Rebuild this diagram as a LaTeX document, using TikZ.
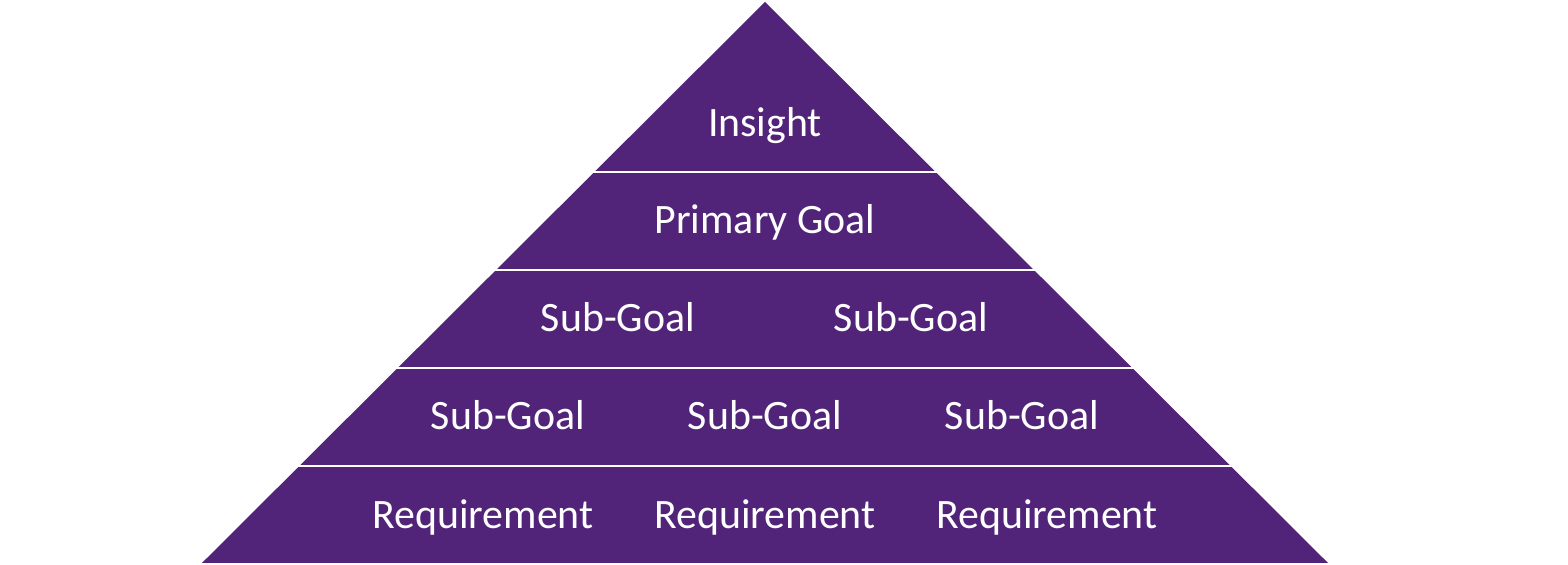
\documentclass[tikz,border=0pt]{standalone}
\usepackage{fontspec}
\setmainfont{Carlito}
\usepackage{tikz}
\usetikzlibrary{positioning,calc}
\definecolor{pyrpurple}{RGB}{81,36,122}
\tikzset{
  pyrband/.style={fill=pyrpurple, draw=none},
  pyrgap/.style={draw=white, line width=0.8pt},
  pyrlabel/.style={text=white, font=\fontsize{11.9}{13}\selectfont, inner sep=0pt, anchor=base},
}
\begin{document}
\begin{tikzpicture}[x=0.01cm, y=-0.01cm]
  \useasboundingbox (0,0) rectangle (1568,565);
  % pyramid body
  \coordinate (apex) at (765,2);
  \coordinate (bl) at (202,563);
  \coordinate (br) at (1328,563);
  \fill[pyrband] (apex) -- (br) -- (bl) -- cycle;
  % white gaps between the levels
  \foreach \y in {172,270,368,466}
    \draw[pyrgap] (150,\y) -- (1400,\y);
  % labels
  \node (ins) [pyrlabel] at (765,137) {Insight};
  \node (pg) [pyrlabel] at (765,234) {Primary Goal};
  \node (sg1) [pyrlabel] at (618,332) {Sub-Goal};
  \node (sg2) [pyrlabel] at (911,332) {Sub-Goal};
  \node (sg3) [pyrlabel] at (508,430) {Sub-Goal};
  \node (sg4) [pyrlabel] at (765,430) {Sub-Goal};
  \node (sg5) [pyrlabel] at (1022,430) {Sub-Goal};
  \node (rq1) [pyrlabel] at (483,529) {Requirement};
  \node (rq2) [pyrlabel] at (765,529) {Requirement};
  \node (rq3) [pyrlabel] at (1047,529) {Requirement};
\end{tikzpicture}
\end{document}
